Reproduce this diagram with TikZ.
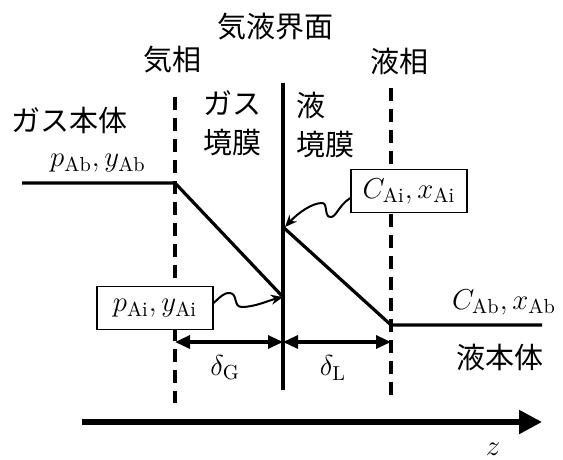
\documentclass[tikz,border=0pt]{standalone}
\usepackage{fontspec}
\newfontfamily\jpfont{Noto Sans CJK JP}
\usetikzlibrary{arrows.meta}

\begin{document}
\begin{tikzpicture}[x=0.5pt, y=-0.5pt,
  font=\fontsize{14.5}{19.5}\selectfont\jpfont,
  filmline/.style={line width=1.7pt, dash pattern=on 6.5pt off 4pt},
  profile/.style={line width=1.6pt},
  mathlbl/.style={font=\fontsize{14.5}{17}\selectfont},
  valbox/.style={mathlbl, draw, fill=white, line width=0.7pt, minimum width=58pt,
    minimum height=21.5pt, inner sep=2pt},
  wiggle/.style={line width=1pt, -{Stealth[length=6pt, width=5pt]}},
  thickness/.style={line width=1.6pt,
    {Triangle[length=7.5pt, width=6.5pt]}-{Triangle[length=7.5pt, width=6.5pt]}}]
  \useasboundingbox (0,0) rectangle (563,460);
  % Film boundaries and interface
  \coordinate (gtop) at (175,97);   \coordinate (gbot) at (175,403);
  \coordinate (itop) at (283,83);   \coordinate (ibot) at (283,390);
  \coordinate (ltop) at (391,88);   \coordinate (lbot) at (391,395);
  \draw[filmline] (gtop) -- (gbot);
  \draw[line width=1.7pt] (itop) -- (ibot);
  \draw[filmline] (ltop) -- (lbot);
  % Concentration profile
  \coordinate (gstart) at (22,183);  \coordinate (gedge) at (175,183);
  \coordinate (pint) at (283,297);   \coordinate (cint) at (283,227);
  \coordinate (ledge) at (391,325);  \coordinate (lend) at (542,325);
  \draw[profile] (gstart) -- (gedge) -- (pint);
  \draw[profile] (cint) -- (ledge) -- (lend);
  % Film thickness arrows
  \coordinate (dg) at (175,342);  \coordinate (di) at (283,342);
  \coordinate (dl) at (391,342);
  \draw[thickness] (dg) -- (di);
  \draw[thickness] (di) -- (dl);
  \node[mathlbl] (deltaG) at (225,368) {$\delta_{\mathrm{G}}$};
  \node[mathlbl] (deltaL) at (333,368) {$\delta_{\mathrm{L}}$};
  % z axis
  \coordinate (zstart) at (82,422);  \coordinate (zend) at (542,422);
  \draw[line width=2.6pt, -{Triangle[length=11.5pt, width=11.5pt]}] (zstart) -- (zend);
  \node[mathlbl, inner sep=0pt] (zlbl) at (493,449) {$z$};
  % Region labels
  \node (ifc) at (275,27) {気液界面};
  \node (gphase) at (172,60) {気相};
  \node (lphase) at (399,61) {液相};
  \node (gbulk) at (69,120) {ガス本体};
  \node[align=left, anchor=west] (gfilm) at (196,123) {ガス\\境膜};
  \node[align=left, anchor=west] (lfilm) at (289,125) {液\\境膜};
  \node (lbulk) at (500,357) {液本体};
  % Concentration labels
  \node[mathlbl] (pab) at (98,163) {$p_{\mathrm{Ab}}, y_{\mathrm{Ab}}$};
  \node[mathlbl] (cab) at (504,302) {$C_{\mathrm{Ab}}, x_{\mathrm{Ab}}$};
  \node[valbox] (cai) at (409,191) {$C_{\mathrm{Ai}}, x_{\mathrm{Ai}}$};
  \node[valbox] (pai) at (155,308) {$p_{\mathrm{Ai}}, y_{\mathrm{Ai}}$};
  % Pointers to the interface values
  \draw[wiggle] ([yshift=-3.5pt]cai.west) .. controls (338,206) and (336,218) .. (330,217)
    .. controls (324,216) and (328,203) .. (322,203)
    .. controls (312,203) and (298,213) .. ([xshift=1pt]cint);
  \draw[wiggle] ([yshift=2.5pt]pai.east) .. controls (220,297) and (225,292) .. (230,293)
    .. controls (238,294) and (233,307) .. (242,307)
    .. controls (255,307) and (270,300) .. (pint);
\end{tikzpicture}
\end{document}
